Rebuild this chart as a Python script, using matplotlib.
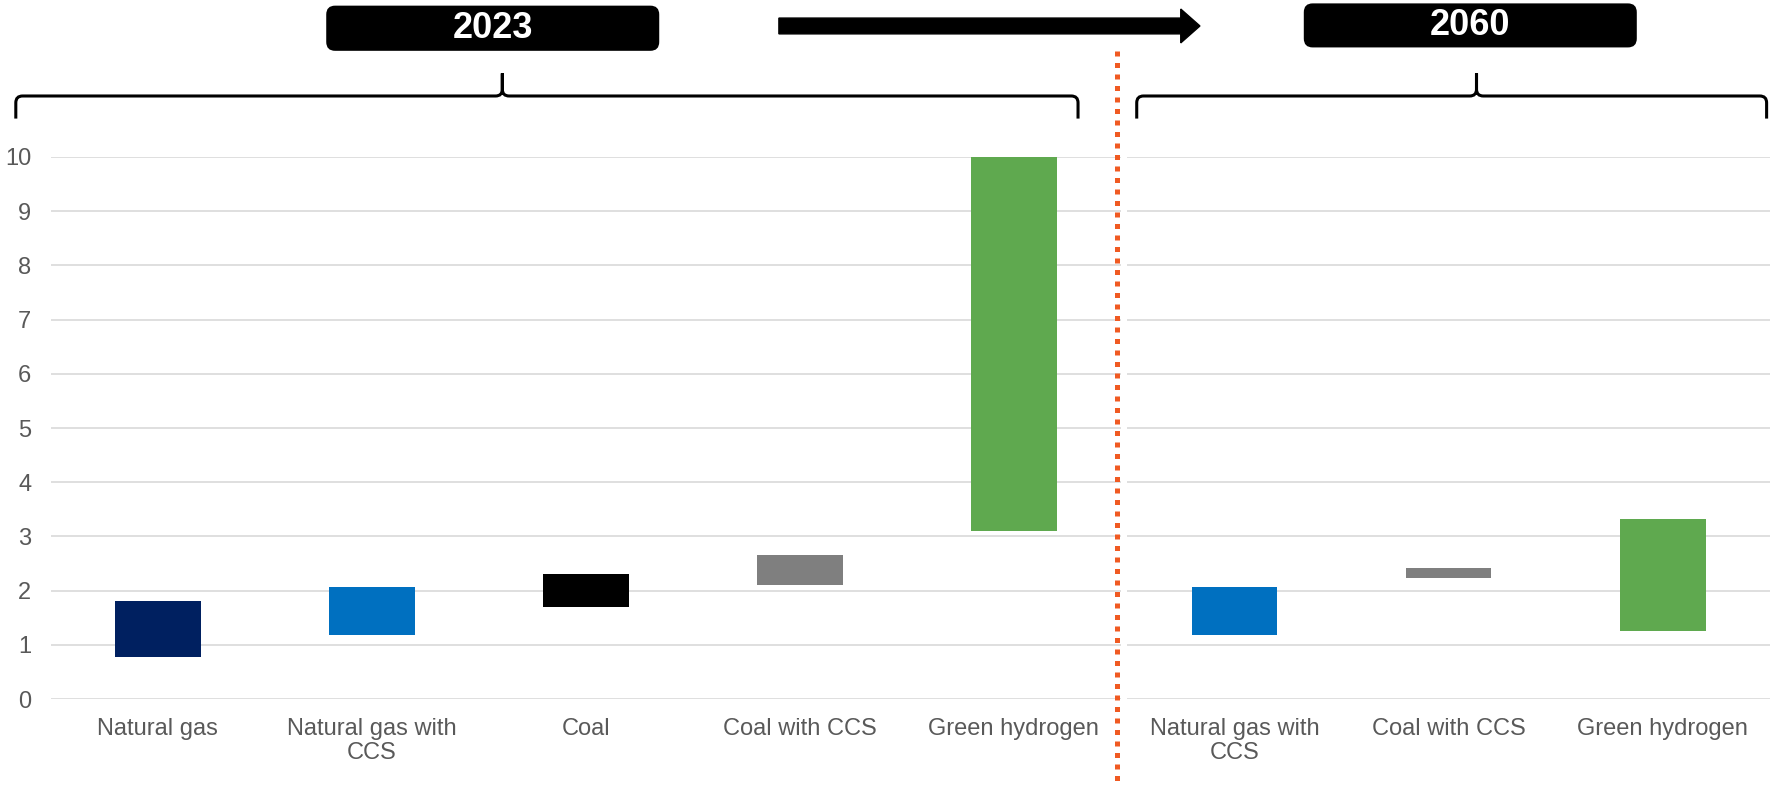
import numpy as np
import matplotlib
matplotlib.use('Agg')
import matplotlib.pyplot as plt
from matplotlib.patches import FancyBboxPatch, FancyArrow, PathPatch
from matplotlib.path import Path
from matplotlib.lines import Line2D

# data: range bars (low / high) per technology
cats_2023 = ['Natural gas', 'Natural gas with\nCCS', 'Coal', 'Coal with CCS', 'Green hydrogen']
low_2023 = [0.78, 1.19, 1.70, 2.10, 3.10]
high_2023 = [1.80, 2.06, 2.30, 2.65, 10.0]
colors_2023 = ['#002060', '#0070C0', '#000000', '#7F7F7F', '#5FA94F']

cats_2060 = ['Natural gas with\nCCS', 'Coal with CCS', 'Green hydrogen']
low_2060 = [1.19, 2.23, 1.25]
high_2060 = [2.07, 2.41, 3.33]
colors_2060 = ['#0070C0', '#7F7F7F', '#5FA94F']

yticks = list(range(0, 11))
year_labels = ['2023', '2060']

plt.rcParams['font.family'] = ['Liberation Sans', 'DejaVu Sans']

W, H = 1568.0, 696.0   # layout coords (scaled reference)


def fx(x):
    return x / W


def fy(y):
    return 1 - y / H


fig = plt.figure(figsize=(17.7, 7.86), dpi=100)

ax1 = fig.add_axes([fx(45), fy(619), fx(993) - fx(45), fy(139) - fy(619)])
ax2 = fig.add_axes([fx(998.6), fy(619), fx(1568) - fx(998.6), fy(139) - fy(619)])


def rangebars(ax, cats, lo, hi, cols, show_y):
    x = np.arange(len(cats))
    ax.bar(x, np.array(hi) - np.array(lo), bottom=lo, width=0.40, color=cols, zorder=3)
    ax.set_xlim(-0.5, len(cats) - 0.5)
    ax.set_ylim(0, 10)
    ax.set_yticks(yticks)
    ax.set_xticks(x)
    ax.set_xticklabels(cats, fontsize=17, color='#595959', linespacing=1.1)
    ax.yaxis.grid(True, color='#D9D9D9', linewidth=1.2, zorder=0)
    ax.tick_params(axis='both', length=0, colors='#595959', labelsize=17)
    ax.tick_params(axis='x', pad=14)
    ax.tick_params(axis='y', pad=14)
    if not show_y:
        ax.set_yticklabels([])
    for s in ax.spines.values():
        s.set_visible(False)


rangebars(ax1, cats_2023, low_2023, high_2023, colors_2023, True)
rangebars(ax2, cats_2060, low_2060, high_2060, colors_2060, False)

# red dotted divider
fig.lines.append(Line2D([fx(989.6), fx(989.6)], [fy(45), fy(696)], transform=fig.transFigure,
                        color='#F05A22', linewidth=3.6, linestyle=(0, (1, 1.3))))


# curly braces above each panel
def brace(x0, x1, xm, ybar=85, yend=105, ytip=65, r=6):
    pts = [(x0, yend), (x0, ybar + r), (x0, ybar), (x0 + r, ybar),
           (xm - r, ybar), (xm, ybar), (xm, ybar - r), (xm, ytip),
           (xm, ybar - r), (xm, ybar), (xm + r, ybar),
           (x1 - r, ybar), (x1, ybar), (x1, ybar + r), (x1, yend)]
    codes = [Path.MOVETO, Path.LINETO, Path.CURVE3, Path.CURVE3,
             Path.LINETO, Path.CURVE3, Path.CURVE3, Path.LINETO,
             Path.LINETO, Path.CURVE3, Path.CURVE3,
             Path.LINETO, Path.CURVE3, Path.CURVE3, Path.LINETO]
    verts = [(fx(a), fy(b)) for a, b in pts]
    fig.patches.append(PathPatch(Path(verts, codes), transform=fig.transFigure,
                                 fill=False, edgecolor='black', linewidth=2.2))


brace(14, 955, 445)
brace(1007, 1565, 1308)

# year boxes
for (x0, x1, y0, y1), lab in zip([(289, 584, 5, 45), (1155, 1450, 3, 42)], year_labels):
    box = FancyBboxPatch((fx(x0), fy(y1)), fx(x1) - fx(x0), fy(y0) - fy(y1),
                         boxstyle='round,pad=0,rounding_size=0.005',
                         mutation_aspect=W / H,
                         transform=fig.transFigure, facecolor='black', edgecolor='none')
    fig.patches.append(box)
    fig.text(fx((x0 + x1) / 2), fy((y0 + y1) / 2), lab, ha='center', va='center',
             color='white', fontsize=26, fontweight='bold')

# arrow 2023 -> 2060
fig.patches.append(FancyArrow(fx(690), fy(23), fx(1063) - fx(690), 0,
                              width=14 / H, head_width=30 / H, head_length=fx(17),
                              length_includes_head=True, transform=fig.transFigure,
                              color='black'))

plt.savefig('out.png', dpi=100)
